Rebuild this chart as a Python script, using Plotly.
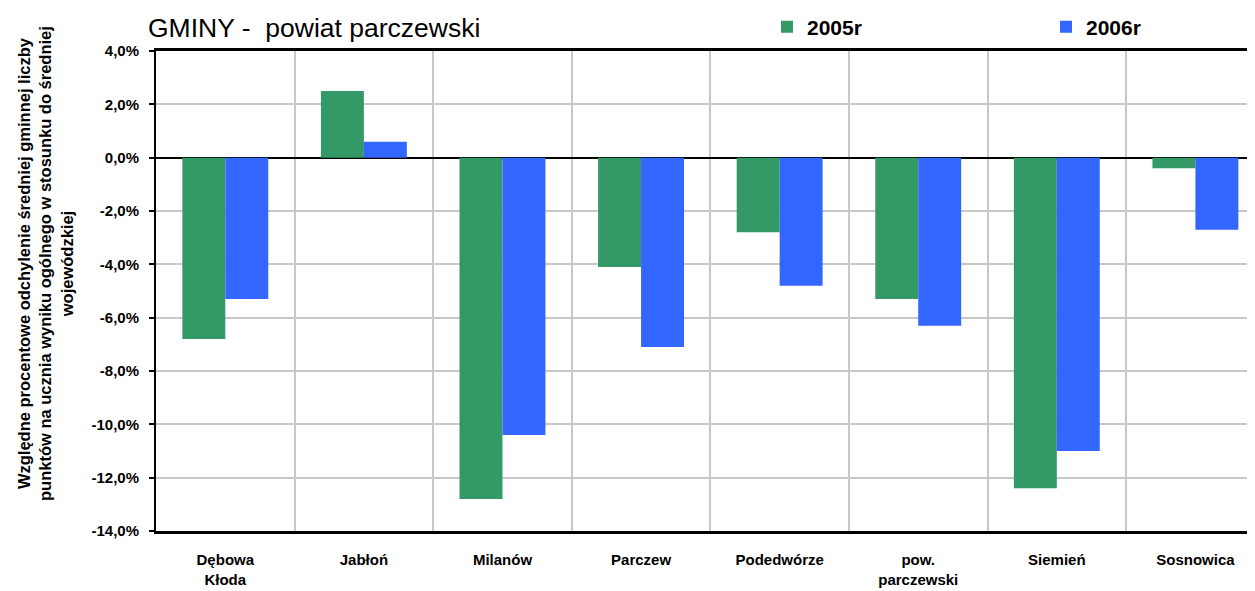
import plotly.graph_objects as go

categories = ["Dębowa<br>Kłoda", "Jabłoń", "Milanów", "Parczew", "Podedwórze",
              "pow.<br>parczewski", "Siemień", "Sosnowica"]
values_2005 = [-6.8, 2.5, -12.8, -4.1, -2.8, -5.3, -12.4, -0.4]
values_2006 = [-5.3, 0.6, -10.4, -7.1, -4.8, -6.3, -11.0, -2.7]
tick_vals = [4, 2, 0, -2, -4, -6, -8, -10, -12, -14]
tick_text = ["4,0%", "2,0%", "0,0%", "-2,0%", "-4,0%", "-6,0%", "-8,0%", "-10,0%", "-12,0%", "-14,0%"]

FONT = "Liberation Sans, Arial, sans-serif"
W, H = 1247, 583   # page body has an 8px margin
L, T, B = 148, 43, 60
PW = W - L
PH = H - T - B

fig = go.Figure()
fig.add_trace(go.Bar(x=categories, y=values_2005, name="2005r", marker_color="#339966",
                     marker_line_width=0, legend="legend"))
fig.add_trace(go.Bar(x=categories, y=values_2006, name="2006r", marker_color="#3366FF",
                     marker_line_width=0, legend="legend2"))

legend_common = dict(orientation="h", xanchor="left", y=1 + 24/PH, yanchor="middle",
                     font=dict(family=FONT, size=21, weight="bold", color="black"),
                     bgcolor="rgba(0,0,0,0)", itemclick=False, itemwidth=30)

fig.update_layout(
    width=W, height=H, autosize=False,
    margin=dict(l=L, r=0, t=T, b=B, autoexpand=False),
    plot_bgcolor="white", paper_bgcolor="white",
    barmode="group", bargap=0.38, bargroupgap=0,
    font=dict(family=FONT, color="black"),
    title=dict(text="GMINY -  powiat parczewski", x=140/W, xanchor="left",
               y=1 - 20/H, yanchor="middle",
               font=dict(family=FONT, size=26.5, color="black")),
    legend=dict(x=(767-156)/PW, **legend_common),
    legend2=dict(x=(1046-156)/PW, **legend_common),
    showlegend=True,
)

fig.update_xaxes(
    range=[-0.5, 7.43], tickson="boundaries", showgrid=True, gridcolor="#C8C8C8", gridwidth=2,
    ticks="", showline=True, linecolor="black", linewidth=3, mirror=True, tickangle=0,
    tickfont=dict(family=FONT, size=15, weight="bold", color="black"),
    ticklabelstandoff=13,
)
fig.update_yaxes(
    range=[-14, 4], tickvals=tick_vals, ticktext=tick_text, showgrid=True,
    gridcolor="#C8C8C8", gridwidth=2, zeroline=True, zerolinecolor="black", zerolinewidth=2,
    showline=True, linecolor="black", linewidth=2, ticks="outside", ticklen=5,
    tickcolor="black", tickwidth=2, ticklabelstandoff=7,
    tickfont=dict(family=FONT, size=15, weight="bold", color="black"),
)

fig.add_annotation(
    text="Względne procentowe odchylenie średniej gminnej liczby<br>punktów na ucznia wyniku ogólnego w stosunku do średniej<br>wojewódzkiej",
    xref="paper", yref="paper", x=-(156-45)/PW, y=(531-264)/PH,
    xanchor="center", yanchor="middle", textangle=-90, showarrow=False,
    font=dict(family=FONT, size=16.5, weight="bold", color="black"),
)

fig.write_html("out.html")
